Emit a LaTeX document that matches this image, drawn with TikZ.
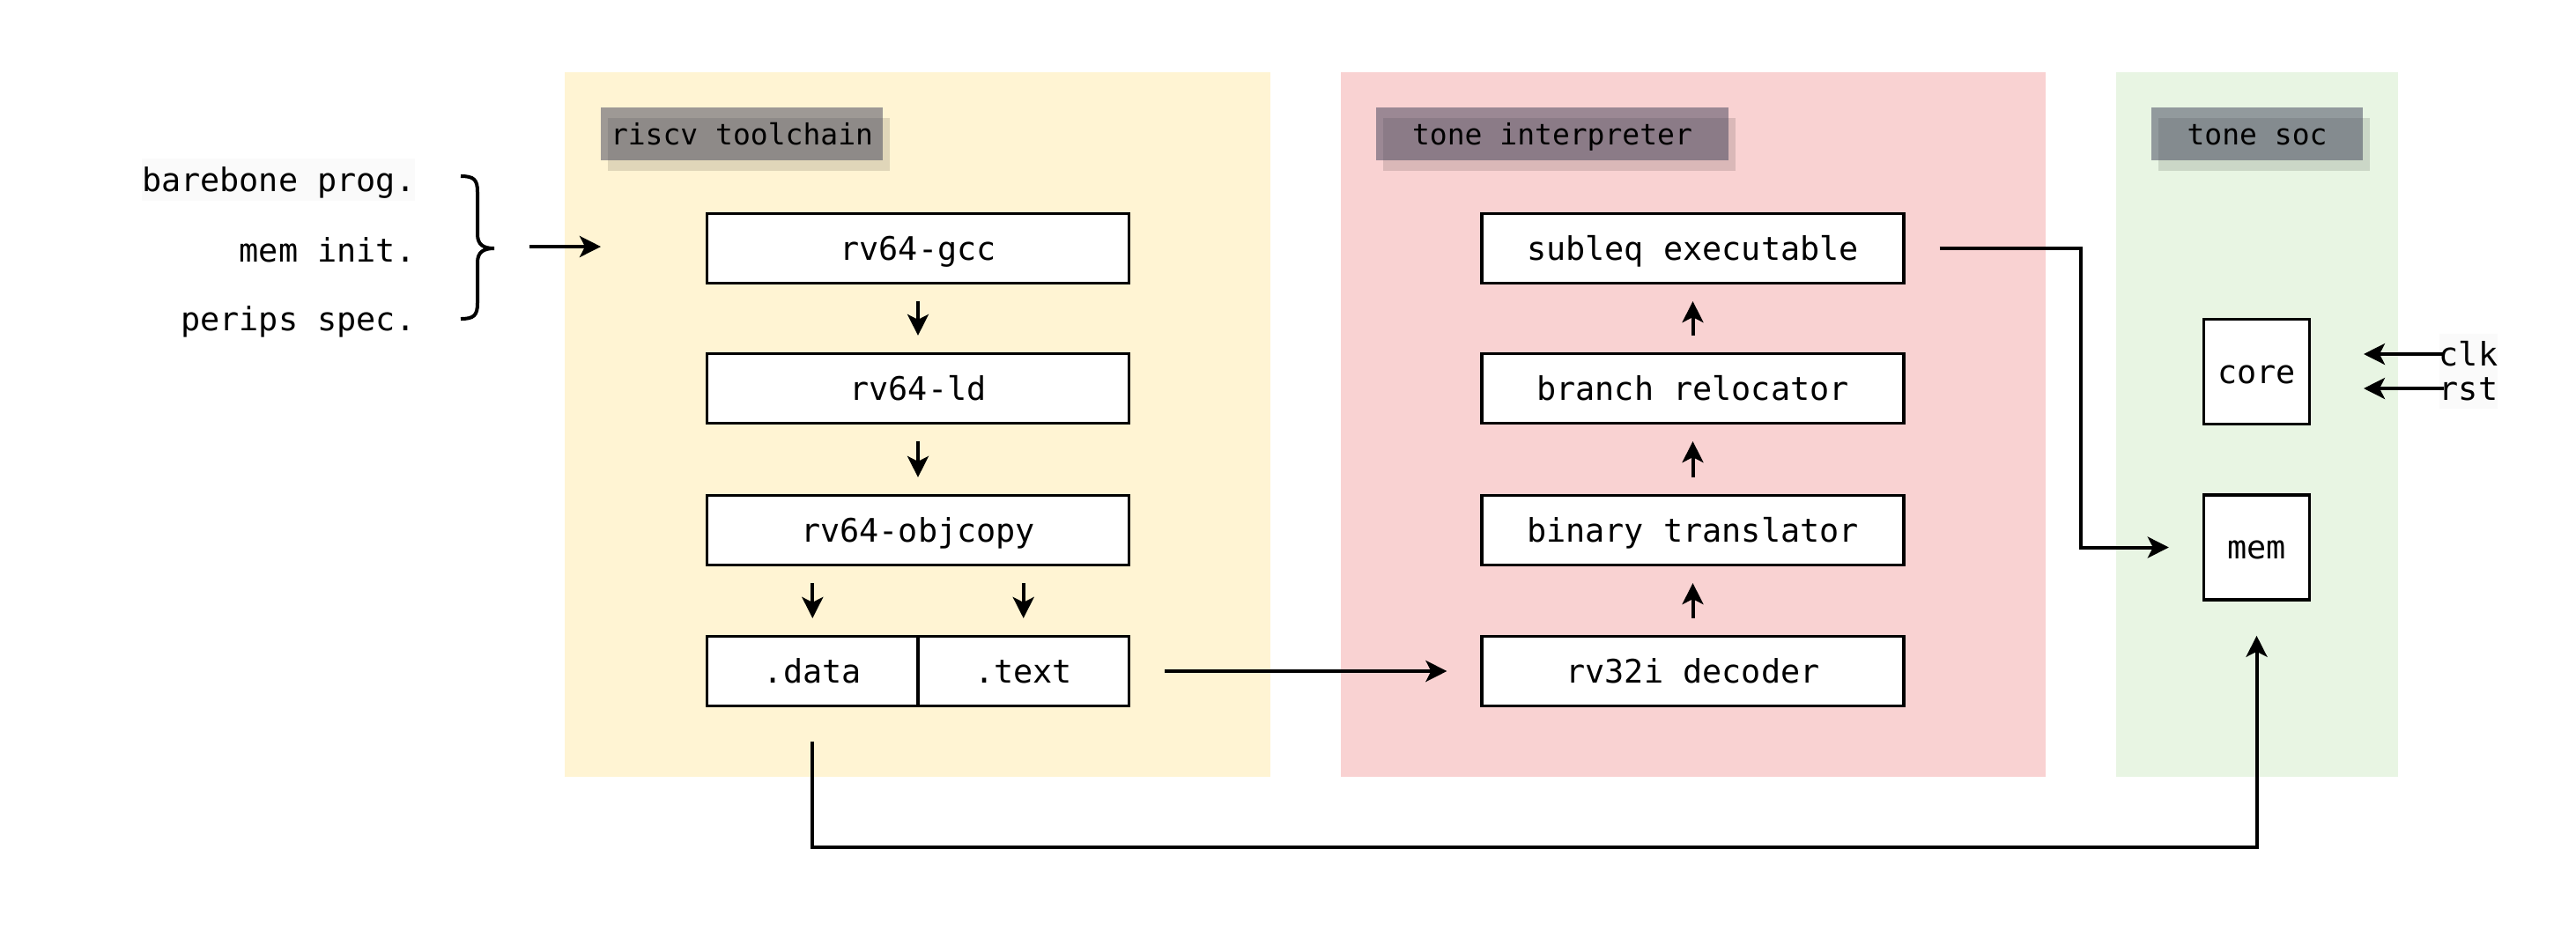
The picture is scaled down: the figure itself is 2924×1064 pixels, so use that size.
\documentclass[tikz,border=0pt]{standalone}
\usepackage{fontspec}
\newfontfamily\dmono{DejaVu Sans Mono}
\usetikzlibrary{arrows.meta,shadows}
\definecolor{ybg}{RGB}{255,244,211}
\definecolor{pbg}{RGB}{249,210,210}
\definecolor{gbg}{RGB}{232,245,227}
\definecolor{lblc}{RGB}{62,64,88}
\definecolor{faint}{RGB}{250,250,250}
\begin{document}
\begin{tikzpicture}[x=0.25pt,y=-0.25pt,
  every node/.style={font=\dmono\fontsize{9.2pt}{11pt}\selectfont},
  stage/.style={draw,line width=0.85pt,fill=white,minimum width=119.7pt,minimum height=19.7pt,inner sep=0pt,text height=6.7pt,text depth=0pt},
  half/.style={stage,minimum width=59.85pt},
  sq/.style={stage,minimum width=30pt,minimum height=29.8pt},
  lbl/.style={font=\dmono\fontsize{8.25pt}{10pt}\selectfont,fill=lblc,fill opacity=0.5,text opacity=1,minimum height=15pt,inner sep=0pt,text height=6pt,text depth=0pt,
    drop shadow={shadow xshift=2pt,shadow yshift=-3pt,fill=black,opacity=0.12}},
  arr/.style={-{Stealth[length=6pt,width=6pt,inset=1.5pt]},line width=1pt},
  gap/.style={shorten <=4.75pt,shorten >=4.75pt},
  side/.style={inner sep=0pt,text height=6.7pt,text depth=0pt}
]
\fill[white] (0,0) rectangle (2924,1064);
\useasboundingbox (0,0) rectangle (2924,1064);

% panels
\fill[ybg] (641,82) rectangle (1442,882);
\fill[pbg] (1522,82) rectangle (2322,882);
\fill[gbg] (2402,82) rectangle (2722,882);

% panel labels
\node[lbl,minimum width=80pt] (lt) at (842,152) {riscv toolchain};
\node[lbl,minimum width=100pt] (li) at (1762,152) {tone interpreter};
\node[lbl,minimum width=60pt] (ls) at (2562,152) {tone soc};

% inputs
\node[side,anchor=east,fill=faint,inner ysep=2.65pt] (bp) at (472,204) {barebone prog.};
\node[side,anchor=east] (mi) at (472,284) {mem init.};
\node[side,anchor=east] (ps) at (472,362) {perips spec.};
\draw[line width=1pt] (523,200) .. controls (538,200) and (542,204) .. (542,218)
  -- (542,266) .. controls (542,278) and (549,282) .. (561,282)
  .. controls (549,282) and (542,286) .. (542,298)
  -- (542,344) .. controls (542,358) and (538,362) .. (523,362);
\coordinate (bin) at (601,280);
\coordinate (bout) at (682,280);
\draw[arr] (bin) -- (bout);

% toolchain
\node[stage] (gcc) at (1042,282) {rv64-gcc};
\node[stage] (ld) at (1042,441) {rv64-ld};
\node[stage] (objc) at (1042,602) {rv64-objcopy};
\node[half] (data) at (922.3,762) {.data};
\node[half] (text) at (1161.7,762) {.text};

% interpreter
\node[stage] (sub) at (1921.5,282) {subleq executable};
\node[stage] (br) at (1921.5,441) {branch relocator};
\node[stage] (bt) at (1921.5,602) {binary translator};
\node[stage] (dec) at (1921.5,762) {rv32i decoder};

% soc
\node[sq] (core) at (2561.5,422) {core};
\node[sq] (mem) at (2561.5,621.5) {mem};
\node[side,anchor=west,fill=faint,inner ysep=2.5pt] (clk) at (2768,402) {clk};
\node[side,anchor=west,fill=faint,inner ysep=2.5pt] (rst) at (2768,441) {rst};

% connectors
\draw[arr,gap] (gcc) -- (ld);
\draw[arr,gap] (ld) -- (objc);
\draw[arr,gap] (objc.south -| data) -- (data);
\draw[arr,gap] (objc.south -| text) -- (text);
\draw[arr,gap] (dec) -- (bt);
\draw[arr,gap] (bt) -- (br);
\draw[arr,gap] (br) -- (sub);
\draw[arr,shorten <=9.75pt,shorten >=9.5pt] (text) -- (dec);

\coordinate (bend) at (2362,0);
\draw[arr,shorten <=9.75pt,shorten >=9.5pt] (sub.east) -- (sub.east -| bend) -- (mem.west -| bend) -- (mem.west);

\coordinate (low) at (0,962);
\draw[arr,shorten <=9.75pt,shorten >=9.75pt] (data.south) -- (data.south |- low) -- (mem.south |- low) -- (mem.south);

\coordinate (ctip) at (2683,0);
\draw[arr,shorten <=-1.5pt] (clk.west) -- (clk.west -| ctip);
\draw[arr,shorten <=-1.5pt] (rst.west) -- (rst.west -| ctip);
\end{tikzpicture}
\end{document}
